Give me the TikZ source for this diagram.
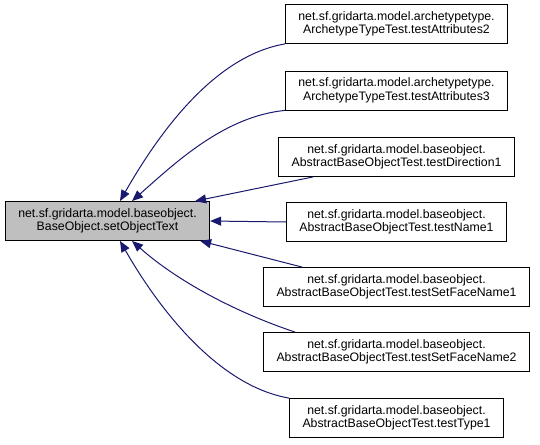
\documentclass[tikz,border=0pt]{standalone}
\usepackage{fontspec}
\setmainfont{Liberation Sans}
\usetikzlibrary{arrows.meta}
\definecolor{edgeblue}{HTML}{191970}
\definecolor{mainfill}{HTML}{BFBFBF}
\begin{document}
\begin{tikzpicture}[x=1pt, y=-1pt,
    testbox/.style={draw=black, fill=white, line width=0.8pt, align=center,
        inner xsep=13pt, inner ysep=2pt, minimum height=39pt,
        font=\fontsize{12.3}{13.5}\selectfont},
    calledge/.style={draw=edgeblue, line width=1pt,
        -{Triangle[length=11pt, width=9pt]}}]
    \useasboundingbox (0,0) rectangle (540,444);

    % Вызываемый метод (слева)
    \node[testbox, fill=mainfill] (main) at (107.5,221)
        {net.sf.gridarta.model.baseobject.\\BaseObject.setObjectText};

    % Тесты (справа, столбиком)
    \node[testbox] (attr2) at (396.5,24)
        {net.sf.gridarta.model.archetypetype.\\ArchetypeTypeTest.testAttributes2};
    \node[testbox] (attr3) at (396.5,90.5)
        {net.sf.gridarta.model.archetypetype.\\ArchetypeTypeTest.testAttributes3};
    \node[testbox] (dir1) at (396.5,157)
        {net.sf.gridarta.model.baseobject.\\AbstractBaseObjectTest.testDirection1};
    \node[testbox] (name1) at (396.5,222)
        {net.sf.gridarta.model.baseobject.\\AbstractBaseObjectTest.testName1};
    \node[testbox] (face1) at (396.5,287)
        {net.sf.gridarta.model.baseobject.\\AbstractBaseObjectTest.testSetFaceName1};
    \node[testbox] (face2) at (396.5,352)
        {net.sf.gridarta.model.baseobject.\\AbstractBaseObjectTest.testSetFaceName2};
    \node[testbox] (type1) at (396.5,418)
        {net.sf.gridarta.model.baseobject.\\AbstractBaseObjectTest.testType1};

    % Стрелки вызовов (сверху)
    \draw[calledge] (attr2.south west) .. controls +(-70,12) and +(40,-70) .. ([xshift=12.5pt]main.north);
    \draw[calledge] (attr3.south west) .. controls +(-60,6) and +(45,-40) .. ([xshift=24.5pt]main.north);
    \draw[calledge] ([xshift=35pt]dir1.south west) -- ([xshift=-15pt]main.north east);

    % Горизонтальная стрелка
    \draw[calledge] (name1.west) -- (main.east);

    % Стрелки вызовов (снизу)
    \draw[calledge] ([xshift=39pt]face1.north west) -- ([xshift=-10pt]main.south east);
    \draw[calledge] ([xshift=32pt]face2.north west) .. controls +(-60,-20) and +(45,40) .. ([xshift=24.5pt]main.south);
    \draw[calledge] (type1.north west) .. controls +(-70,-12) and +(40,70) .. ([xshift=12.5pt]main.south);
\end{tikzpicture}
\end{document}
